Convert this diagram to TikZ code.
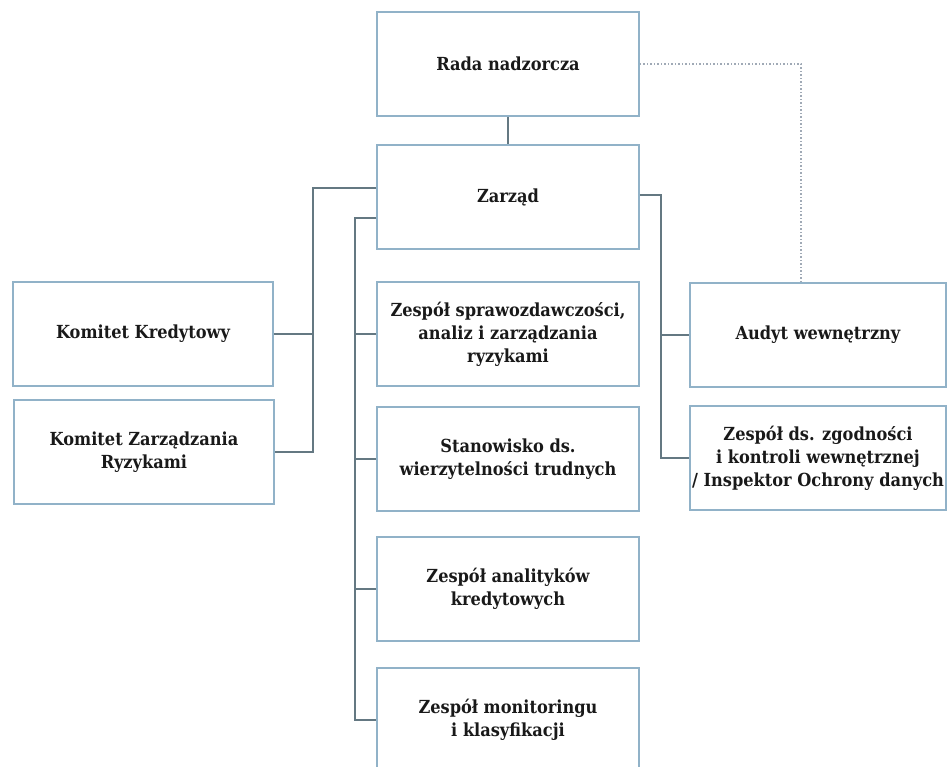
\documentclass[tikz,border=0pt]{standalone}
\usepackage{fontspec}
\setmainfont{DejaVu Serif Condensed}
\usepackage{tikz}
\usetikzlibrary{shapes}

\definecolor{boxline}{RGB}{145,178,200}
\definecolor{linkline}{RGB}{100,120,130}
\definecolor{dotline}{RGB}{160,170,182}
\definecolor{txt}{RGB}{25,25,25}

\begin{document}
\begin{tikzpicture}[x=1pt, y=-1pt,
  unit/.style={draw=boxline, line width=1.7pt, rectangle,
    minimum width=262pt, minimum height=104pt, inner sep=0pt,
    align=center, text=txt, font=\fontsize{18}{23}\selectfont\bfseries},
  link/.style={draw=linkline, line width=1.3pt}]
\useasboundingbox (0,0) rectangle (948,766);

\node[unit] (R) at (508,64) {Rada nadzorcza};
\node[unit] (Z) at (508,197) {Zarząd};
\node[unit] (S1) at (508,334) {Zespół sprawozdawczości,\\ analiz i zarządzania\\ ryzykami};
\node[unit] (S2) at (508,459) {Stanowisko ds.\\ wierzytelności trudnych};
\node[unit] (S3) at (508,589) {Zespół analityków\\ kredytowych};
\node[unit] (S4) at (508,720) {Zespół monitoringu\\ i klasyfikacji};

\node[unit, minimum width=260pt] (KK) at (143,334) {Komitet Kredytowy};
\node[unit, minimum width=260pt] (KZR) at (144,452) {Komitet Zarządzania\\ Ryzykami};

\node[unit, minimum width=256pt] (AU) at (818,335) {Audyt wewnętrzny};
\node[unit, minimum width=256pt] (ZG) at (818,458) {Zespół ds. zgodności\\ i kontroli wewnętrznej\\ / Inspektor Ochrony danych};

\coordinate (LT) at (313,188);
\coordinate (MT) at (355,218);
\coordinate (RT) at (661,195);

\draw[link] (R) -- (Z);

\draw[link] ([yshift=9pt]Z.west) -- (LT) |- (KZR.east);
\draw[link] (KK.east) -- (KK.east -| LT);

\draw[link] ([yshift=-21pt]Z.west) -- (MT) |- (S4.west);
\foreach \n in {S1,S2,S3}
  \draw[link] (\n.west) -- (\n.west -| MT);

\draw[link] ([yshift=2pt]Z.east) -- (RT) |- (ZG.west);
\draw[link] (AU.west) -- (AU.west -| RT);

\draw[dotted, dotline, line width=1.5pt] (R.east) -| ([xshift=-17pt]AU.north);
\end{tikzpicture}
\end{document}
